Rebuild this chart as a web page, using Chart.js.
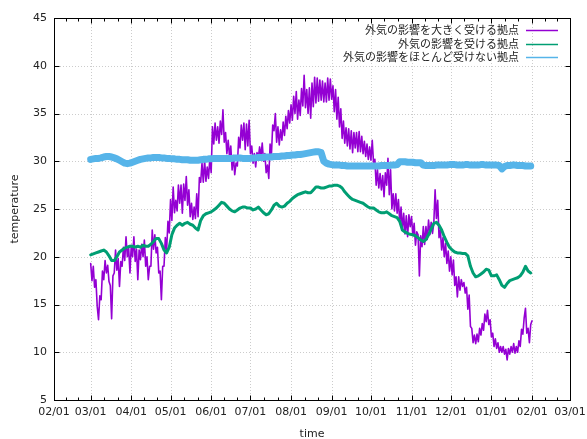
<!DOCTYPE html>
<html>
<head>
<meta charset="utf-8">
<script src="https://cdn.jsdelivr.net/npm/chart.js"></script>
<style>
  html, body { margin: 0; padding: 0; background: #fff; }
  canvas { display: block; }
</style>
</head>
<body>
<canvas id="chart" width="587" height="439"></canvas>
<script>
// Series names and colours (legend order)
const seriesNames = ['外気の影響を大きく受ける拠点', '外気の影響を受ける拠点', '外気の影響をほとんど受けない拠点'];
const seriesColors = ['#9400d3', '#009e73', '#56b4e9'];

// Month boundaries used as major ticks on the time axis
const monthTicks = ['2019-02-01', '2019-03-01', '2019-04-01', '2019-05-01', '2019-06-01', '2019-07-01', '2019-08-01',
                    '2019-09-01', '2019-10-01', '2019-11-01', '2019-12-01', '2020-01-01', '2020-02-01', '2020-03-01'];
const yTicks = [5, 10, 15, 20, 25, 30, 35, 40, 45];

// All series start on this date
const seriesStart = '2019-03-01';

// Strongly affected site: one reading per day (alternating daily high / low)
const strongDaily = [
  19.3, 17.5, 19.0, 16.8, 17.6, 14.8, 13.4, 15.9, 15.5, 18.5,
  17.6, 19.6, 18.3, 19.1, 17.4, 17.0, 13.5, 18.0, 18.3, 20.7,
  18.6, 19.8, 16.9, 19.5, 19.0, 21.0, 19.6, 22.1, 20.0, 20.9,
  18.3, 21.2, 20.0, 22.1, 19.5, 20.8, 17.6, 20.7, 19.7, 21.3,
  20.0, 21.75, 19.0, 20.0, 17.6, 19.0, 19.0, 22.8, 20.8, 22.3,
  20.4, 21.0, 18.3, 18.5, 15.5, 19.0, 19.0, 22.0, 20.7, 23.7,
  22.5, 26.0, 23.8, 27.3, 24.6, 25.9, 24.8, 27.5, 25.6, 27.5,
  24.55, 27.6, 25.9, 28.4, 25.4, 27.0, 24.2, 25.6, 23.9, 25.2,
  24.0, 26.6, 24.2, 28.3, 27.8, 29.8, 27.8, 30.1, 27.9, 29.4,
  28.2, 30.4, 28.8, 33.6, 31.8, 34.0, 32.2, 33.6, 31.9, 34.2,
  32.8, 35.4, 32.0, 33.0, 30.8, 32.2, 30.5, 31.6, 29.1, 30.6,
  28.6, 29.8, 29.5, 32.5, 31.4, 33.8, 32.2, 34.0, 31.2, 33.9,
  31.6, 34.3, 30.8, 31.6, 29.8, 30.8, 29.4, 30.9, 30.3, 31.5,
  30.5, 31.9, 30.0, 30.8, 28.8, 29.6, 28.2, 31.8, 30.6, 33.8,
  33.2, 35.0, 32.0, 33.6, 31.7, 33.3, 32.2, 34.1, 32.7, 34.7,
  33.4, 35.3, 34.0, 35.9, 34.3, 36.8, 35.0, 37.3, 34.4, 36.4,
  34.8, 37.6, 35.8, 39.0, 35.6, 37.5, 35.0, 37.7, 34.5, 38.2,
  35.7, 38.8, 36.1, 38.7, 36.3, 38.5, 36.4, 38.4, 36.2, 38.2,
  36.2, 38.7, 36.4, 38.6, 36.5, 37.9, 35.2, 37.5, 34.4, 36.7,
  33.6, 35.5, 32.4, 34.2, 31.9, 33.5, 31.6, 33.4, 31.3, 33.2,
  30.9, 33.0, 31.4, 33.0, 31.0, 33.1, 31.0, 32.6, 30.8, 32.1,
  30.5, 31.8, 30.2, 31.5, 30.1, 32.2, 29.8, 30.2, 27.5, 29.1,
  27.2, 28.7, 27.0, 28.5, 26.3, 28.8, 27.5, 30.3, 26.5, 29.1,
  25.0, 26.6, 24.8, 26.6, 24.55, 26.0, 23.5, 25.2, 22.8, 24.55,
  22.4, 24.3, 22.1, 24.4, 23.15, 24.2, 22.2, 23.5, 21.2, 22.6,
  22.3, 18.0, 22.2, 21.05, 23.15, 21.3, 23.15, 21.8, 23.85, 22.3,
  23.6, 22.45, 23.5, 27.0, 24.0, 25.9, 22.0, 22.8, 20.7, 22.0,
  20.0, 21.4, 19.3, 20.6, 18.5, 20.0, 18.1, 19.66, 17.0, 17.9,
  15.8, 17.9, 16.5, 17.6, 16.9, 17.3, 16.2, 16.8, 14.5, 16.0,
  12.7, 12.5, 11.0, 11.8, 10.9, 11.9, 11.1, 12.5, 11.8, 13.0,
  12.3, 14.0, 13.2, 14.4, 12.9, 13.4, 11.6, 12.0, 10.6, 11.4,
  10.4, 11.0, 10.0, 10.6, 10.0, 10.6, 9.8, 10.3, 9.2, 10.4,
  9.8, 10.6, 10.0, 10.9, 9.9, 10.6, 10.0, 11.2, 10.6, 12.4,
  11.9, 13.6, 14.6, 12.0, 12.5, 11.0, 12.9, 13.3
];

// Moderately affected site: one reading every 2 days
const mediumEvery2Days = [
  20.2, 20.3, 20.4, 20.5, 20.6, 20.7, 20.5, 20.1, 19.6, 19.6,
  20.0, 20.5, 20.7, 20.9, 21.0, 21.1, 21.1, 21.0, 21.1, 21.0,
  21.2, 21.1, 21.1, 21.3, 21.6, 21.9, 21.9, 21.4, 20.7, 20.4,
  21.0, 22.3, 23.0, 23.3, 23.5, 23.3, 23.5, 23.6, 23.4, 23.3,
  23.0, 22.8, 23.8, 24.3, 24.5, 24.6, 24.7, 24.9, 25.1, 25.4,
  25.7, 25.6, 25.3, 25.0, 24.8, 24.7, 24.9, 25.1, 25.2, 25.2,
  25.1, 25.1, 24.9, 25.0, 25.2, 24.9, 24.6, 24.4, 24.5, 24.9,
  25.4, 25.6, 25.3, 25.2, 25.3, 25.6, 25.8, 26.1, 26.3, 26.5,
  26.6, 26.7, 26.8, 26.7, 26.7, 27.0, 27.3, 27.3, 27.2, 27.2,
  27.3, 27.4, 27.4, 27.5, 27.5, 27.4, 27.2, 26.8, 26.5, 26.2,
  26.0, 25.9, 25.8, 25.7, 25.6, 25.4, 25.2, 25.1, 25.1, 24.9,
  24.7, 24.6, 24.6, 24.7, 24.5, 24.3, 24.2, 24.1, 23.7, 22.8,
  22.6, 22.45, 22.35, 22.3, 22.2, 22.0, 21.75, 21.6, 21.8, 22.3,
  22.9, 23.5, 23.6, 23.3, 22.8, 22.1, 21.5, 21.0, 20.7, 20.5,
  20.4, 20.4, 20.35, 20.35, 20.1, 19.0, 18.3, 17.9, 18.0, 18.2,
  18.4, 18.7, 18.6, 18.0, 18.0, 18.1, 17.6, 17.0, 16.8, 17.2,
  17.5, 17.6, 17.7, 17.8, 18.0, 18.4, 19.0, 18.5, 18.3
];

// Barely affected site: one reading every 2 days
const weakEvery2Days = [
  30.2, 30.25, 30.3, 30.3, 30.35, 30.45, 30.5, 30.5, 30.45, 30.35,
  30.25, 30.1, 29.95, 29.8, 29.75, 29.8, 29.9, 30.0, 30.1, 30.2,
  30.25, 30.3, 30.35, 30.35, 30.4, 30.4, 30.4, 30.35, 30.35, 30.3,
  30.3, 30.25, 30.25, 30.2, 30.2, 30.15, 30.15, 30.15, 30.1, 30.1,
  30.1, 30.1, 30.15, 30.2, 30.2, 30.25, 30.25, 30.3, 30.3, 30.3,
  30.3, 30.3, 30.3, 30.3, 30.3, 30.35, 30.35, 30.35, 30.3, 30.3,
  30.3, 30.3, 30.35, 30.35, 30.4, 30.4, 30.4, 30.45, 30.45, 30.45,
  30.5, 30.5, 30.5, 30.55, 30.55, 30.6, 30.6, 30.65, 30.65, 30.7,
  30.7, 30.75, 30.8, 30.85, 30.9, 30.95, 31.0, 31.0, 30.9, 30.0,
  29.8, 29.7, 29.65, 29.6, 29.6, 29.6, 29.55, 29.55, 29.5, 29.5,
  29.5, 29.5, 29.5, 29.5, 29.5, 29.5, 29.5, 29.5, 29.5, 29.5,
  29.5, 29.55, 29.55, 29.55, 29.55, 29.6, 29.6, 29.65, 29.95, 29.95,
  29.95, 29.9, 29.9, 29.9, 29.85, 29.85, 29.85, 29.6, 29.55, 29.55,
  29.55, 29.55, 29.6, 29.6, 29.6, 29.6, 29.6, 29.65, 29.65, 29.65,
  29.6, 29.6, 29.6, 29.65, 29.65, 29.6, 29.6, 29.6, 29.6, 29.65,
  29.65, 29.6, 29.6, 29.6, 29.6, 29.6, 29.55, 29.2, 29.45, 29.55,
  29.55, 29.6, 29.6, 29.55, 29.55, 29.55, 29.5, 29.5, 29.5
];

// ---- helpers: dates become day offsets on a linear axis ----
const DAY_MS = 86400000;
const axisOrigin = Date.parse(monthTicks[0]);
const dayOf = s => Math.round((Date.parse(s) - axisOrigin) / DAY_MS);
const tickDays = monthTicks.map(dayOf);
const tickLabel = s => s.slice(5, 7) + '/' + s.slice(8, 10);
const firstDay = dayOf(seriesStart);
const toPoints = (values, stepDays) => values.map((v, k) => ({ x: firstDay + k * stepDays, y: v }));

const TEXT_FONT = '11px "DejaVu Sans", "Noto Sans CJK JP", sans-serif';
const LEGEND_FONT = '11px "Noto Sans CJK JP", "DejaVu Sans", sans-serif';

// Frame, grid, tics, labels and key in the classic plotting style
const framePlugin = {
  id: 'frame',
  beforeDatasetsDraw(chart) {
    const { ctx, chartArea: a, scales: { x, y } } = chart;
    ctx.save();
    ctx.strokeStyle = 'rgba(0,0,0,0.2)';
    ctx.lineWidth = 1;
    ctx.setLineDash([1, 2]);
    ctx.beginPath();
    tickDays.forEach(d => {
      const px = Math.round(x.getPixelForValue(d)) + 0.5;
      ctx.moveTo(px, a.top); ctx.lineTo(px, a.bottom);
    });
    yTicks.forEach(v => {
      const py = Math.round(y.getPixelForValue(v)) + 0.5;
      ctx.moveTo(a.left, py); ctx.lineTo(a.right, py);
    });
    ctx.stroke();
    ctx.restore();
  },
  afterDatasetsDraw(chart) {
    const { ctx, chartArea: a, scales: { x, y } } = chart;
    const L = Math.round(a.left) + 0.5, R = Math.round(a.right) + 0.5;
    const T = Math.round(a.top) + 0.5, B = Math.round(a.bottom) + 0.5;
    ctx.save();
    ctx.strokeStyle = '#000';
    ctx.lineWidth = 1;
    ctx.setLineDash([]);
    ctx.strokeRect(L, T, R - L, B - T);

    const major = 5, minor = 3;
    ctx.beginPath();
    // time axis: major tics at month starts, two minor tics in between (mirrored on top)
    tickDays.forEach((d, k) => {
      const px = Math.round(x.getPixelForValue(d)) + 0.5;
      ctx.moveTo(px, B); ctx.lineTo(px, B - major);
      ctx.moveTo(px, T); ctx.lineTo(px, T + major);
      if (k < tickDays.length - 1) {
        const span = tickDays[k + 1] - d;
        [1, 2].forEach(m => {
          const mx = Math.round(x.getPixelForValue(d + span * m / 3)) + 0.5;
          ctx.moveTo(mx, B); ctx.lineTo(mx, B - minor);
          ctx.moveTo(mx, T); ctx.lineTo(mx, T + minor);
        });
      }
    });
    // temperature axis (mirrored on the right)
    yTicks.forEach(v => {
      const py = Math.round(y.getPixelForValue(v)) + 0.5;
      ctx.moveTo(L, py); ctx.lineTo(L + major, py);
      ctx.moveTo(R, py); ctx.lineTo(R - major, py);
    });
    ctx.stroke();

    // tick labels
    ctx.fillStyle = '#222';
    ctx.font = TEXT_FONT;
    ctx.textAlign = 'right';
    ctx.textBaseline = 'middle';
    yTicks.forEach(v => ctx.fillText(String(v), a.left - 7, y.getPixelForValue(v)));
    ctx.textAlign = 'center';
    monthTicks.forEach((s, k) => ctx.fillText(tickLabel(s), x.getPixelForValue(tickDays[k]), a.bottom + 12));

    // axis titles
    ctx.fillText('time', (a.left + a.right) / 2, a.bottom + 34);
    ctx.save();
    ctx.translate(15, (a.top + a.bottom) / 2);
    ctx.rotate(-Math.PI / 2);
    ctx.fillText('temperature', 0, 0);
    ctx.restore();

    // key, top right inside the frame
    ctx.font = LEGEND_FONT;
    ctx.textAlign = 'right';
    seriesNames.forEach((name, k) => {
      const ly = a.top + 12 + k * 13.6;
      ctx.fillStyle = '#222';
      ctx.fillText(name, a.right - 51, ly);
      ctx.strokeStyle = seriesColors[k];
      ctx.lineWidth = 1.5;
      ctx.beginPath();
      ctx.moveTo(a.right - 44, Math.round(ly) + 0.5);
      ctx.lineTo(a.right - 12, Math.round(ly) + 0.5);
      ctx.stroke();
    });
    ctx.restore();
  }
};

const lineStyle = { pointRadius: 0, fill: false, tension: 0, borderJoinStyle: 'round', borderCapStyle: 'round' };

new Chart(document.getElementById('chart'), {
  type: 'line',
  data: {
    datasets: [
      { ...lineStyle, label: seriesNames[0], data: toPoints(strongDaily, 1), borderColor: seriesColors[0], borderWidth: 1.6, order: 3 },
      { ...lineStyle, label: seriesNames[1], data: toPoints(mediumEvery2Days, 2), borderColor: seriesColors[1], borderWidth: 3, order: 2 },
      { ...lineStyle, label: seriesNames[2], data: toPoints(weakEvery2Days, 2), borderColor: seriesColors[2], borderWidth: 7, order: 1 }
    ]
  },
  options: {
    responsive: false,
    animation: false,
    devicePixelRatio: 1,
    events: [],
    layout: { padding: { left: 54, right: 17, top: 18, bottom: 39 } },
    plugins: { legend: { display: false }, tooltip: { enabled: false } },
    scales: {
      x: { type: 'linear', display: false, min: tickDays[0], max: tickDays[tickDays.length - 1] },
      y: { type: 'linear', display: false, min: yTicks[0], max: yTicks[yTicks.length - 1] }
    }
  },
  plugins: [framePlugin]
});
</script>
</body>
</html>
